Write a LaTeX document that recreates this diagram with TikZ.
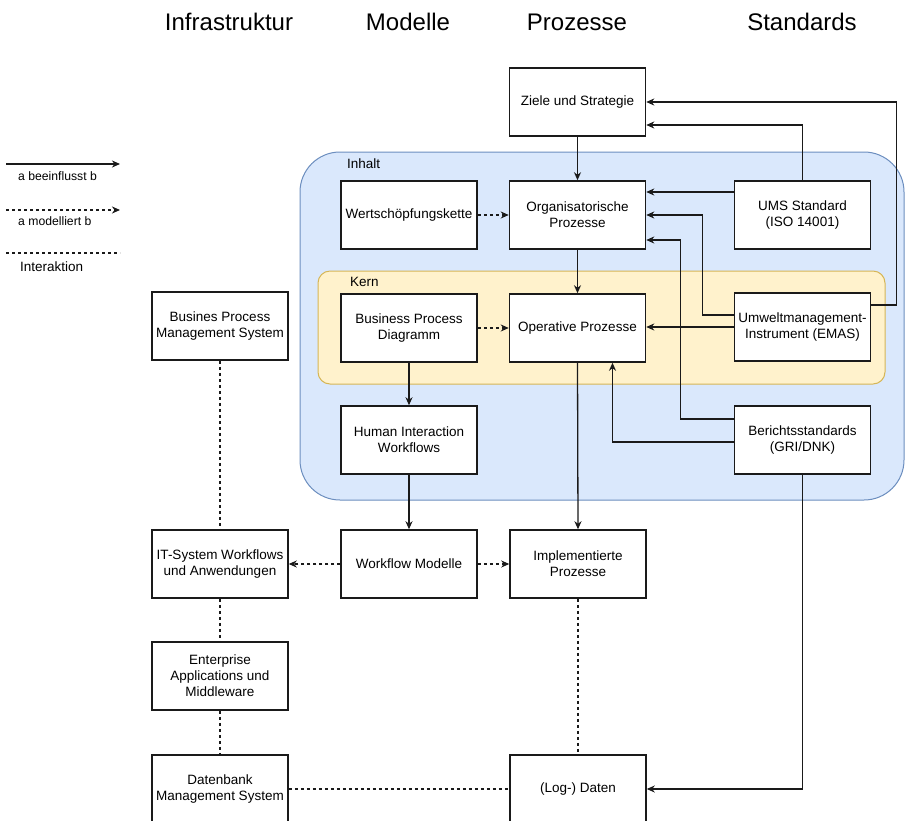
\documentclass[tikz,border=0pt]{standalone}
\usepackage{fontspec}
\setmainfont{Liberation Sans}
\usetikzlibrary{arrows.meta}
\definecolor{inhaltfill}{HTML}{DAE8FC}
\definecolor{inhaltdraw}{HTML}{6C8EBF}
\definecolor{kernfill}{HTML}{FFF2CC}
\definecolor{kerndraw}{HTML}{D6B656}
\definecolor{linec}{HTML}{1A1A1A}
\begin{document}
\begin{tikzpicture}[x=1pt,y=-1pt,
  box/.style={draw=linec, line width=1.5pt, fill=white, minimum width=136pt, minimum height=68pt,
    align=center, font=\fontsize{13.5}{16}\selectfont, inner sep=2pt},
  arr/.style={draw=linec, line width=1.3pt, -{Stealth[length=8pt,width=7pt,inset=2.5pt]}},
  dasharr/.style={arr, dash pattern=on 3pt off 3pt},
  inter/.style={draw=linec, line width=1.3pt, dash pattern=on 3pt off 3pt},
  header/.style={font=\fontsize{24}{28}\selectfont},
  legend/.style={font=\fontsize{12.2}{14}\selectfont, anchor=west, inner sep=0pt},
  grouplabel/.style={font=\fontsize{13.5}{15}\selectfont, anchor=west, inner sep=0pt}]
\useasboundingbox (0,0) rectangle (905,820);
\fill[white] (0,0) rectangle (905,820);

% containers
\draw[fill=inhaltfill, draw=inhaltdraw, line width=1pt, rounded corners=40pt] (300,152) rectangle (904,500);
\node[grouplabel] (inhaltlbl) at (347,164) {Inhalt};
\draw[fill=kernfill, draw=kerndraw, line width=1pt, rounded corners=12pt] (318,271) rectangle (885,384);
\node[grouplabel] (kernlbl) at (350,282) {Kern};

% headers
\node[header] (h1) at (229,22) {Infrastruktur};
\node[header] (h2) at (408,22) {Modelle};
\node[header] (h3) at (577,22) {Prozesse};
\node[header] (h4) at (802,22) {Standards};

% boxes
\node[box] (ziele) at (577.5,102) {Ziele und Strategie};
\node[box] (org) at (577.5,215) {Organisatorische\\Prozesse};
\node[box] (ums) at (802.5,215) {UMS Standard\\(ISO 14001)};
\node[box] (wert) at (409,215) {Wertschöpfungskette};
\node[box] (bpd) at (409,328) {Business Process\\Diagramm};
\node[box] (op) at (577.5,328) {Operative Prozesse};
\node[box] (umw) at (802.5,327) {Umweltmanagement-\\Instrument (EMAS)};
\node[box] (hiw) at (409,440) {Human Interaction\\Workflows};
\node[box] (ber) at (802.5,440) {Berichtsstandards\\(GRI/DNK)};
\node[box] (bpms) at (220,326) {Busines Process\\Management System};
\node[box] (it) at (220,564) {IT-System Workflows\\und Anwendungen};
\node[box] (wf) at (409,564) {Workflow Modelle};
\node[box] (impl) at (578,564) {Implementierte\\Prozesse};
\node[box] (ent) at (220,676) {Enterprise\\Applications und\\Middleware};
\node[box] (db) at (220,789) {Datenbank\\Management System};
\node[box] (log) at (578,789) {(Log-) Daten};

% influence arrows
\draw[arr] (ziele.south) -- (org.north);
\draw[arr] (org.south) -- (op.north);
\draw[arr] (bpd.south) -- (hiw.north);
\draw[arr] (hiw.south) -- (wf.north);
\draw[arr] (op.south) -- (impl.north);
\draw[arr] ([yshift=23pt]ums.west) -- ([yshift=23pt]org.east);
\draw[arr] (ums.north) |- ([yshift=-23pt]ziele.east);
\draw[arr] ([yshift=22pt]umw.east) -- ++(25,0) |- (ziele.east);
\draw[arr] ([yshift=12pt]umw.west) -- ++(-31,0) |- (org.east);
\draw[arr] ([yshift=21pt]ber.west) -- ++(-53,0) |- ([yshift=-25pt]org.east);
\draw[arr] (umw.west) -- (op.east |- umw.west);
\draw[arr] ([yshift=-2pt]ber.west) -| ([xshift=35pt]op.south);
\draw[arr] (ber.south) |- (log.east);

% modelling arrows
\draw[dasharr] (wert.east) -- (org.west);
\draw[dasharr] (bpd.east) -- (op.west);
\draw[dasharr] (wf.west) -- (it.east);
\draw[dasharr] (wf.east) -- (impl.west);

% interaction
\draw[inter] (bpms.south) -- (it.north);
\draw[inter] (it.south) -- (ent.north);
\draw[inter] (ent.south) -- (db.north);
\draw[inter] (impl.south) -- (log.north);
\draw[inter] (db.east) -- (log.west);

% legend
\coordinate (l1a) at (6,164);
\coordinate (l1b) at (120,164);
\coordinate (l2a) at (6,210);
\coordinate (l2b) at (120,210);
\coordinate (l3a) at (6,253);
\coordinate (l3b) at (120,253);
\draw[arr] (l1a) -- (l1b);
\draw[dasharr] (l2a) -- (l2b);
\draw[inter] (l3a) -- (l3b);
\node[legend] (t1) at (18,176) {a beeinflusst b};
\node[legend] (t2) at (18,221) {a modelliert b};
\node[grouplabel] (t3) at (20,267) {Interaktion};
\end{tikzpicture}
\end{document}
